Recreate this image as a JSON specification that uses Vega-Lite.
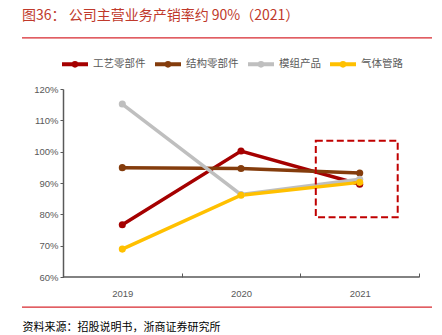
{
  "$schema": "https://vega.github.io/schema/vega-lite/v6.json",
  "width": 410,
  "height": 188,
  "autosize": {"type": "none"},
  "padding": {"left": 22, "top": 89, "right": 10, "bottom": 58},
  "background": "white",
  "config": {"view": {"stroke": null}, "font": "Liberation Sans"},
  "title": {
    "text": "图36：  公司主营业务产销率约 90%（2021）",
    "anchor": "start",
    "frame": "group",
    "offset": 14,
    "font": "Noto Sans CJK SC",
    "fontSize": 14,
    "fontWeight": "normal",
    "color": "#C0392B"
  },
  "data": {
    "values": [
      {"series": "工艺零部件", "year": "2019", "rate": 76.7},
      {"series": "工艺零部件", "year": "2020", "rate": 100.2},
      {"series": "工艺零部件", "year": "2021", "rate": 89.6},
      {"series": "结构零部件", "year": "2019", "rate": 94.9},
      {"series": "结构零部件", "year": "2020", "rate": 94.6},
      {"series": "结构零部件", "year": "2021", "rate": 93.2},
      {"series": "模组产品", "year": "2019", "rate": 115.2},
      {"series": "模组产品", "year": "2020", "rate": 86.3},
      {"series": "模组产品", "year": "2021", "rate": 91.2},
      {"series": "气体管路", "year": "2019", "rate": 68.9},
      {"series": "气体管路", "year": "2020", "rate": 86.1},
      {"series": "气体管路", "year": "2021", "rate": 90.2}
    ]
  },
  "layer": [
    {
      "mark": {"type": "line", "strokeWidth": 3.5, "point": {"filled": true, "size": 50}},
      "encoding": {
        "x": {
          "field": "year",
          "type": "nominal",
          "scale": {"domain": ["2019", "2020", "2021"], "paddingInner": 0, "paddingOuter": 0.227, "align": 0.76},
          "axis": {
            "title": "资料来源：招股说明书，浙商证券研究所",
            "titleAnchor": "start",
            "titleAlign": "left",
            "titleFont": "Noto Sans CJK SC",
            "titleFontSize": 11,
            "titleFontWeight": "normal",
            "titleColor": "#000000",
            "titlePadding": 24,
            "domain": false,
            "tickBand": "extent",
            "tickSize": -4,
            "tickColor": "#595959",
            "tickWidth": 1,
            "labelAngle": 0,
            "labelColor": "#595959",
            "labelFontSize": 9.5,
            "labelPadding": 15
          }
        },
        "y": {
          "field": "rate",
          "type": "quantitative",
          "scale": {"domain": [60, 120]},
          "axis": {
            "title": null,
            "offset": -41,
            "values": [60, 70, 80, 90, 100, 110, 120],
            "tickCount": 7,
            "labelExpr": "datum.value + '%'",
            "labelOverlap": false,
            "domainColor": "#595959",
            "domainWidth": 1.5,
            "tickColor": "#595959",
            "tickSize": 3,
            "labelColor": "#595959",
            "labelFontSize": 9.5,
            "labelPadding": 2,
            "grid": false
          }
        },
        "color": {
          "field": "series",
          "type": "nominal",
          "scale": {
            "domain": ["工艺零部件", "结构零部件", "模组产品", "气体管路"],
            "range": ["#A50000", "#843C0C", "#BFBFBF", "#FFC000"]
          },
          "legend": {
            "title": null,
            "orient": "none",
            "legendX": 38,
            "legendY": -40,
            "direction": "horizontal",
            "symbolType": "M-1,0H1M-0.1,0A0.1,0.1,0,1,1,0.1,0A0.1,0.1,0,1,1,-0.1,0Z",
            "symbolSize": 676,
            "symbolStrokeWidth": 4,
            "labelFont": "Noto Sans CJK SC",
            "labelFontSize": 10.5,
            "labelColor": "#595959",
            "columnPadding": 1,
            "labelOffset": 3,
            "padding": 0
          }
        }
      }
    },
    {
      "data": {"values": [{}]},
      "mark": {"type": "rule", "color": "#D7282F", "strokeWidth": 1.2, "clip": false},
      "encoding": {"y": {"datum": 136.3, "type": "quantitative"}}
    },
    {
      "data": {"values": [{}]},
      "mark": {"type": "rule", "color": "#D7282F", "strokeWidth": 1.2, "clip": false},
      "encoding": {"y": {"datum": 50.4, "type": "quantitative"}}
    },
    {
      "data": {"values": [{}]},
      "mark": {"type": "rule", "color": "#595959", "strokeWidth": 1.5},
      "encoding": {
        "x": {"datum": "2019", "type": "nominal", "bandPosition": 0},
        "x2": {"datum": "2021", "bandPosition": 1},
        "y": {"datum": 60, "type": "quantitative"}
      }
    },
    {
      "data": {"values": [{}]},
      "mark": {"type": "rect", "fill": "transparent", "stroke": "#C00000", "strokeWidth": 2, "strokeDash": [7, 3.5]},
      "encoding": {
        "x": {"datum": "2021", "type": "nominal", "bandPosition": 0.13},
        "x2": {"datum": "2021", "bandPosition": 0.82},
        "y": {"datum": 103.5, "type": "quantitative"},
        "y2": {"datum": 79.1}
      }
    }
  ]
}
